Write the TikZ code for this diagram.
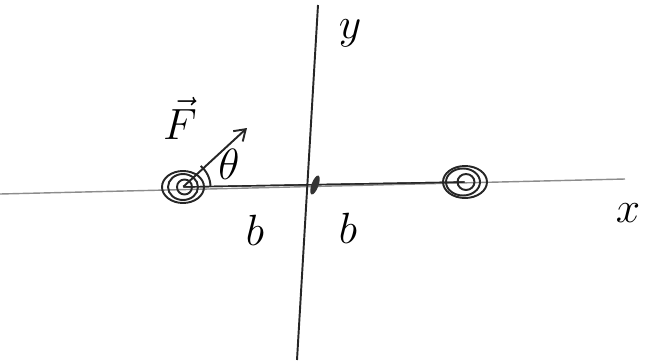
\documentclass[tikz,border=0pt]{standalone}
\usetikzlibrary{arrows.meta}
\tikzset{
    ink/.style={line width=1.1pt, black!85},
    handlabel/.style={font=\fontsize{28}{30}\selectfont, inner sep=0pt},
    point/.style={inner sep=0pt, minimum size=0pt}
}
\begin{document}
\begin{tikzpicture}
\useasboundingbox (0,0) rectangle (13.04,7.26);

% Axes
\coordinate (xl) at (0,3.38);
\coordinate (xr) at (12.5,3.68);
\coordinate (yt) at (6.36,7.16);
\coordinate (yb) at (5.94,0.06);
\draw[black!45, line width=0.8pt] (xl) -- (xr);
\draw[ink] (yb) -- (yt);
\node[handlabel] (xlab) at (12.56,3.0) {$x$};
\node[handlabel] (ylab) at (7.0,6.6) {$y$};

% Masses
\node[point] (lmass) at (3.66,3.52) {};
\node[point] (rmass) at (9.3,3.62) {};
\draw[ink] (lmass) ellipse (0.42 and 0.32);
\draw[ink] (lmass) ellipse (0.3 and 0.26);
\draw[ink] ([xshift=0.03cm]lmass) circle (0.15);
\draw[ink] (rmass) ellipse (0.44 and 0.32);
\draw[ink] ([xshift=-0.04cm]rmass) ellipse (0.34 and 0.27);
\draw[ink] ([xshift=0.02cm]rmass) ellipse (0.17 and 0.16);

% Rod
\draw[ink, line width=0.8pt] ([shift={(0.44,0.13)}]lmass) -- ([shift={(-0.44,0.06)}]rmass);
\draw[ink, line width=0.8pt] ([shift={(0.44,0.0)}]lmass) -- ([shift={(-0.44,-0.07)}]rmass);
\coordinate (cm) at (6.3,3.56);
\fill[black!80, rotate around={70:(cm)}] (cm) ellipse (0.2 and 0.07);

% Force and angle
\coordinate (ftip) at (4.94,4.7);
\draw[ink, -{Straight Barb[length=6pt, width=8pt]}] (lmass) -- (ftip);
\draw[ink] ([shift={(0:0.55)}]lmass) arc (0:50:0.55);
\node[font=\fontsize{24}{26}\selectfont, inner sep=0pt] (theta) at (4.58,3.98) {$\theta$};
\node[font=\fontsize{32}{34}\selectfont, inner sep=0pt] (flab) at (3.6,4.9) {$\vec{F}$};

% Half lengths
\node[handlabel] (bl) at (5.1,2.66) {$b$};
\node[handlabel] (br) at (6.96,2.7) {$b$};

\end{tikzpicture}
\end{document}
